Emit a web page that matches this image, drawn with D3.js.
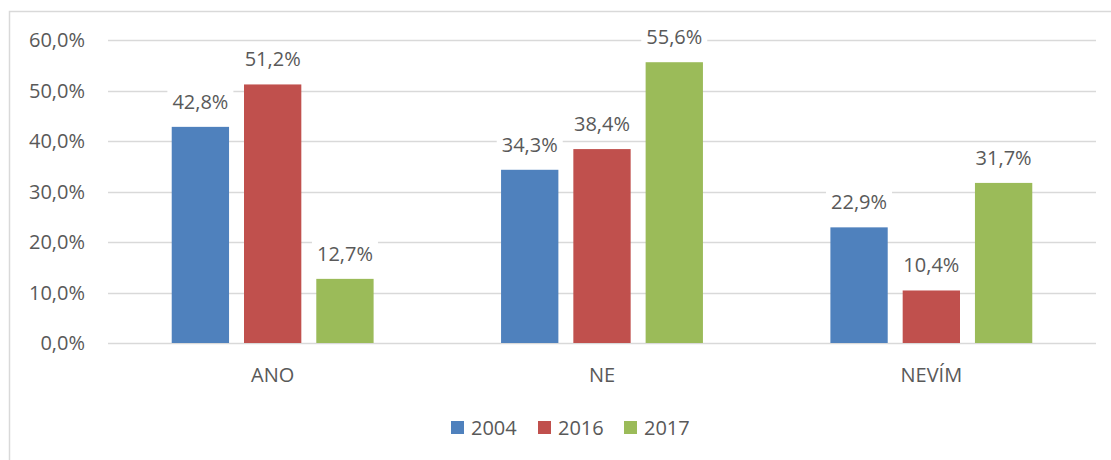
<!DOCTYPE html>
<html>
<head>
<meta charset="utf-8">
<script src="https://cdn.jsdelivr.net/npm/d3@7"></script>
<style>
  body { margin: 0; background: #fff; }
  text { font-family: 'Open Sans', sans-serif; fill: #595959; }
</style>
</head>
<body>
<div id="chart"></div>
<script>
// grouped bar chart, survey answers by year

const categories = ['ANO', 'NE', 'NEVÍM']
const years = ['2004', '2016', '2017']
const values2004 = [42.8, 34.3, 22.9]
const values2016 = [51.2, 38.4, 10.4]
const values2017 = [12.7, 55.6, 31.7]
const yTicks = [0, 10, 20, 30, 40, 50, 60]

const colors = { 2004: '#4f81bd', 2016: '#c0504d', 2017: '#9bbb59' }

const width = 1111
const height = 460
const margin = { top: 40, right: 15, bottom: 117, left: 108 }

const series = { 2004: values2004, 2016: values2016, 2017: values2017 }
const rows = []
categories.forEach((c, i) => {
  years.forEach(y => rows.push({ cat: c, year: y, value: series[y][i] }))
})

const svg = d3.select('#chart').append('svg')
  .attr('width', width).attr('height', height)

// outer frame (runs past window on right and bottom)
svg.append('rect')
  .attr('x', 9.5).attr('y', 11.5)
  .attr('width', 1200).attr('height', 500)
  .attr('fill', 'none').attr('stroke', '#d9d9d9').attr('stroke-width', 1.5)

const x0 = d3.scaleBand()
  .domain(categories)
  .range([margin.left, width - margin.right])
  .paddingInner(0.387)
  .paddingOuter(0.1935)

const x1 = d3.scaleBand()
  .domain(years)
  .range([0, x0.bandwidth()])
  .paddingInner(0.207)

const y = d3.scaleLinear()
  .domain([0, 60])
  .range([height - margin.bottom, margin.top])

// gridlines
svg.append('g').selectAll('line')
  .data(yTicks)
  .join('line')
  .attr('x1', margin.left).attr('x2', width - margin.right)
  .attr('y1', d => Math.round(y(d)) + 0.5)
  .attr('y2', d => Math.round(y(d)) + 0.5)
  .attr('stroke', '#d9d9d9').attr('stroke-width', 1.3)

// y tick labels
svg.append('g').selectAll('text')
  .data(yTicks)
  .join('text')
  .attr('x', 85)
  .attr('y', d => y(d) + 7)
  .attr('text-anchor', 'end')
  .style('font-size', '20px')
  .text(d => d3.format('.1f')(d).replace('.', ',') + '%')

// bars
const bars = svg.append('g')
bars.selectAll('rect')
  .data(rows)
  .join('rect')
  .attr('x', d => x0(d.cat) + x1(d.year))
  .attr('y', d => y(d.value))
  .attr('width', x1.bandwidth())
  .attr('height', d => y(0) - y(d.value))
  .attr('fill', d => colors[d.year])

// value labels
const lab = svg.append('g').selectAll('g')
  .data(rows)
  .join('g')
  .attr('transform', d => 'translate(' + (x0(d.cat) + x1(d.year) + x1.bandwidth() / 2) + ',' + (y(d.value) - 18) + ')')

lab.append('rect')
  .attr('x', -33).attr('y', -20)
  .attr('width', 66).attr('height', 26)
  .attr('fill', '#fff')

lab.append('text')
  .attr('text-anchor', 'middle')
  .style('font-size', '20px')
  .text(d => d.value.toFixed(1).replace('.', ',') + '%')

// category labels
svg.append('g').selectAll('text')
  .data(categories)
  .join('text')
  .attr('x', d => x0(d) + x0.bandwidth() / 2)
  .attr('y', 382)
  .attr('text-anchor', 'middle')
  .style('font-size', '20px')
  .text(d => d)

// legend
const legendX = [451, 538, 624]
const lg = svg.append('g').selectAll('g')
  .data(years)
  .join('g')
  .attr('transform', (d, i) => 'translate(' + legendX[i] + ',421)')

lg.append('rect')
  .attr('width', 13).attr('height', 13)
  .attr('fill', d => colors[d])

lg.append('text')
  .attr('x', 20).attr('y', 14)
  .style('font-size', '20px')
  .text(d => d)
</script>
</body>
</html>
